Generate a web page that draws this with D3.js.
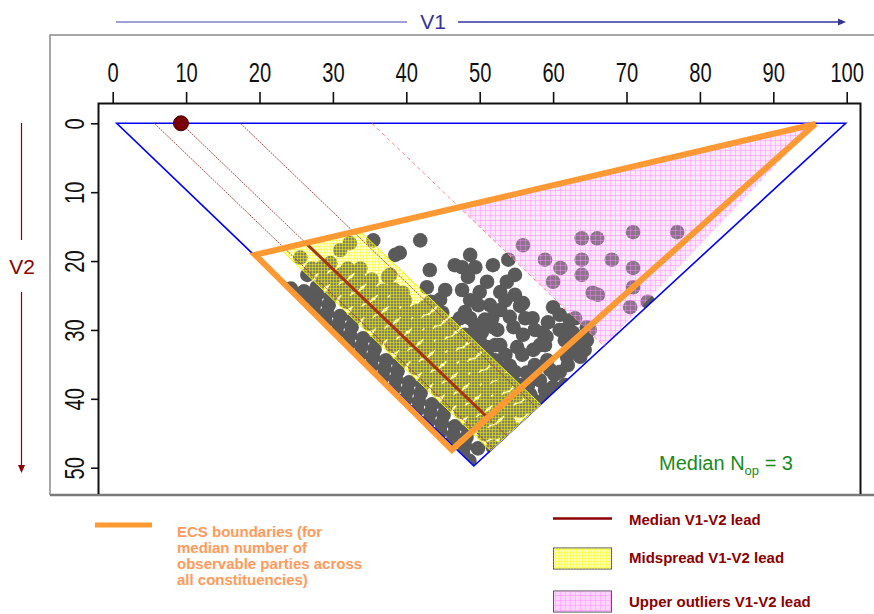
<!DOCTYPE html>
<html><head><meta charset="utf-8">
<script src="https://cdn.jsdelivr.net/npm/d3@7"></script>
<style>
body{margin:0;background:#fff;}
svg{display:block;font-family:"Liberation Sans",Arial,sans-serif;}
</style></head>
<body><svg id="c" width="874" height="614"></svg>
<script>
// ---------- data (V1 = winner share, V2 = runner-up share) ----------
const xTicks = [0,10,20,30,40,50,60,70,80,90,100];
const yTicks = [0,10,20,30,40,50];
const yTickLabels = ["0","10","20","30","40","50"];
const feasibleTriangle = [[0.55,0],[99.86,0],[49.2,49.75]];
const ecsBoundary = [[95.7,0.1],[19.4,19.1],[46.2,47.4]];
const medianLead = 9.3;
const quartileLines = [5.67,17.4];
const midspread = [5.0,18.4];
const upperOutlierLead = 35.3;
const medianNop = 3;
const constituencyPoints = [
 // lower-left strip
 [24.27,24],[25.84,25.6],[27.40,27.2],[28.97,28.8],[30.53,30.4],[32.10,32],[33.66,33.6],[35.23,35.2],
 [36.79,36.8],[38.36,38.4],[39.92,40],[41.48,41.6],[43.05,43.2],[44.61,44.8],[46.18,46.4],[47.74,48],
 [27.85,24.8],[29.42,26.4],[30.98,28],[32.55,29.6],[34.11,31.2],[35.68,32.8],[37.24,34.4],[38.81,36],
 [40.37,37.6],[41.94,39.2],[43.50,40.8],[45.07,42.4],[46.63,44],[48.20,45.6],[49.76,47.2],[48.6,49.0],
 [26.06,24.4],[27.63,26],[29.19,27.6],[30.76,29.2],[32.32,30.8],[33.89,32.4],[35.45,34],[37.02,35.6],
 [38.58,37.2],[40.15,38.8],[41.71,40.4],[43.28,42],[44.84,43.6],[46.41,45.2],[47.97,46.8],
 [26.52,22],[29.65,25.2],[32.78,28.4],[35.9,31.6],[39.03,34.8],[42.16,38],[45.29,41.2],[48.42,44.4],
 [26.2,25.0],[27.8,23.8],
 // midspread band
 [25.57,19.5],[27.14,21.1],[28.70,22.7],[30.27,24.3],[31.83,25.9],[33.40,27.5],[34.96,29.1],[36.52,30.7],
 [38.09,32.3],[39.65,33.9],[41.22,35.5],[42.78,37.1],[44.35,38.7],[45.91,40.3],[47.48,41.9],[49.04,43.5],[50.61,45.1],
 [28.54,20.9],[30.11,22.5],[31.67,24.1],[33.23,25.7],[34.80,27.3],[36.36,28.9],[37.93,30.5],[39.49,32.1],
 [41.06,33.7],[42.62,35.3],[44.19,36.9],[45.75,38.5],[47.32,40.1],[48.88,41.7],[50.45,43.3],[52.01,44.9],
 [29.65,20.3],[31.22,21.9],[32.78,23.5],[34.35,25.1],[35.91,26.7],[37.48,28.3],[39.04,29.9],[40.61,31.5],
 [42.17,33.1],[43.74,34.7],[45.30,36.3],[46.87,37.9],[48.43,39.5],[50.00,41.1],[51.56,42.7],[53.13,44.3],
 [32.04,21.1],[33.60,22.7],[35.17,24.3],[36.73,25.9],[38.30,27.5],[39.86,29.1],[41.42,30.7],[42.99,32.3],
 [44.55,33.9],[46.12,35.5],[47.68,37.1],[49.25,38.7],[50.81,40.3],[52.38,41.9],[53.94,43.5],
 [33.74,21.1],[35.30,22.7],[36.87,24.3],[38.43,25.9],[40.00,27.5],[41.56,29.1],[43.12,30.7],
 [44.69,32.3],[46.25,33.9],[47.82,35.5],[49.38,37.1],[50.95,38.7],[52.51,40.3],[54.08,41.9],
 [38.27,24.1],[39.83,25.7],[41.40,27.3],[42.96,28.9],[44.53,30.5],[46.09,32.1],
 [47.66,33.7],[49.22,35.3],[50.79,36.9],[52.35,38.5],[53.92,40.1],[55.48,41.7],
 [42.51,26.7],[44.08,28.3],[45.64,29.9],[47.21,31.5],
 [48.77,33.1],[50.34,34.7],[51.90,36.3],[53.47,37.9],[55.03,39.5],[56.60,41.1],
 [43.33,25.9],[44.90,27.5],[46.46,29.1],[48.02,30.7],
 [49.59,32.3],[51.15,33.9],[52.72,35.5],[54.28,37.1],[55.85,38.7],[57.41,40.3],
 [32.3,17.4],[31.0,18.4],[35.5,17.0],[37.8,22.0],
 // between midspread and outliers
 [41.9,17.0],[39.1,18.8],[47.6,20.9],[49.4,20.9],[48.4,22.3],[53.9,19.8],[51.0,23.0],[53.7,23.0],
 [50.0,24.5],[52.8,24.5],[51.4,26.4],[55.9,26.1],[60.0,26.7],[48.0,27.4],[49.4,29.3],[50.0,31.5],
 [54.1,28.1],[52.4,30.0],[58.6,30.4],[60.9,30.0],[62.7,30.4],[64.6,29.6],[64.6,31.5],[55.1,32.5],
 [57.3,32.9],[59.2,34.4],[61.9,33.9],[63.7,33.9],[56.4,36.2],[58.2,37.3],[60.0,38.3],[65.0,30.0],
 [38.5,19.1],[37.5,22.3],[42.8,23.8],[39.5,24.6],[51.8,29.6],[54.6,29.6],[51.0,32.5],
 [59.1,31.0],[61.3,30.0],[60.5,39.2],[58.2,40.6],[57.3,43.1],[55.1,44.5],[53.7,46.0],[51.8,47.0],
 [48.7,25.7],[47.3,28.3],[48.7,30.7],[50.7,28.5],[52.8,32.2],[52.1,34.4],[54.1,35.2],[55.5,38.0],
 [53.4,37.3],[56.9,39.4],[58.9,39.9],[60.9,36.1],[62.6,32.9],[63.7,31.5],[62.3,28.6],[56.2,28.3],
 [57.5,30.0],[58.9,32.2],[55.9,30.7],[52.8,27.1],[54.8,24.9],[51.8,20.6],[48.7,19.1],[46.6,20.6],
 [43.2,21.3],[44.6,25.6],[45.3,24.2],[54.8,22.0],[60.9,27.8],
 [47.6,24.2],[49.8,26.4],[51.7,28.3],[53.5,25.7],[55.5,26.5],[57.2,28.3],[59.3,28.9],[63.0,28.3],
 [64.3,32.9],[62.0,35.1],[59.6,35.8],[57.5,35.1],[55.8,33.6],[53.5,33.6],[54.8,36.1],[56.6,38.0],
 [58.9,38.7],[60.2,36.5],[61.6,38.0],[48.7,28.3],[50.3,30.3],[52.1,32.2],[58.2,32.2],[61.6,31.5],
 // upper outliers
 [55.9,17.7],[58.9,19.8],[61.0,21.0],[60.0,23.0],[63.9,16.7],[66.0,16.7],[63.9,19.8],[63.9,22.0],
 [65.4,24.6],[66.1,24.9],[68.0,19.8],[70.9,15.8],[70.9,21.0],[70.9,23.8],[70.5,26.7],[72.9,25.9],[76.9,15.8]
];
const legendItems = ["Median V1-V2 lead","Midspread V1-V2 lead","Upper outliers V1-V2 lead"];
const ecsLegendLines = ["ECS boundaries (for","median number of","observable parties across","all constituencies)"];

// ---------- scales ----------
const x = d3.scaleLinear().domain([0,100]).range([112.7,846.7]);
const y = d3.scaleLinear().domain([0,50]).range([123.3,467.7]);
const svg = d3.select("#c");
const defs = svg.append("defs");

function pattern(id, size, bg, line){
  const p = defs.append("pattern").attr("id",id).attr("width",size).attr("height",size)
    .attr("patternUnits","userSpaceOnUse");
  p.append("rect").attr("width",size).attr("height",size).attr("fill",bg);
  p.append("path").attr("d",`M0 0.5H${size}M0.5 0V${size}`).attr("stroke",line).attr("stroke-width",1);
}
pattern("yg",3,"rgba(255,255,110,0.26)","rgba(255,255,0,0.45)");
pattern("pg",5,"rgba(255,175,255,0.30)","rgba(255,130,255,0.42)");

defs.append("clipPath").attr("id","triClip").append("path")
  .attr("d","M"+feasibleTriangle.map(p=>[x(p[0]),y(p[1])].join(",")).join("L")+"Z");

// slope of a constant-lead line (parallel to the V1=V2 edge)
const s = (feasibleTriangle[2][0]-feasibleTriangle[0][0])/(feasibleTriangle[2][1]-feasibleTriangle[0][1]);
function leadPoint(L, seg){
  const [A,B]=seg, dx=B[0]-A[0], dy=B[1]-A[1];
  const u=(L + s*A[1] - A[0])/(dx - s*dy);
  return [A[0]+u*dx, A[1]+u*dy];
}
const triTop=[feasibleTriangle[0],feasibleTriangle[1]];
const triRight=[feasibleTriangle[1],feasibleTriangle[2]];
const ecsTop=[ecsBoundary[1],ecsBoundary[0]];
const ecsRight=[ecsBoundary[0],ecsBoundary[2]];
const line = d3.line().x(d=>x(d[0])).y(d=>y(d[1]));

// ---------- frames ----------
svg.append("path").attr("d","M50,495V35H874").attr("fill","none").attr("stroke","#8a8a8a").attr("stroke-width",1.5);
svg.append("line").attr("x1",50).attr("x2",874).attr("y1",495).attr("y2",495).attr("stroke","#7a7a7a").attr("stroke-width",2.5);
svg.append("path").attr("d","M98.5,494V103.5H860.5V494").attr("fill","none").attr("stroke","#111").attr("stroke-width",2);

// ---------- axes ----------
const gx = svg.append("g").attr("transform","translate(0,103)")
  .call(d3.axisTop(x).tickValues(xTicks).tickSize(11).tickPadding(10).tickFormat(d3.format("d")));
gx.select(".domain").remove();
gx.selectAll(".tick line").attr("stroke","#111").attr("stroke-width",1.6);
gx.selectAll(".tick text").attr("font-size",28).attr("fill","#111")
  .attr("transform","scale(0.72,1)");

const gy = svg.append("g").attr("transform","translate(98,0)")
  .call(d3.axisLeft(y).tickValues(yTicks).tickSize(7).tickFormat((d,i)=>yTickLabels[i]));
gy.select(".domain").remove();
gy.selectAll(".tick line").attr("stroke","#111").attr("stroke-width",1.6);
gy.selectAll(".tick text").attr("font-size",28).attr("fill","#111")
  .attr("x",0).attr("dy",null).attr("text-anchor","middle").attr("dominant-baseline","central")
  .attr("transform","translate(-24,0) rotate(-90) scale(0.72,1)");

// ---------- axis captions ----------
svg.append("line").attr("x1",116).attr("x2",407).attr("y1",22).attr("y2",22).attr("stroke","#8080c8").attr("stroke-width",1.5);
svg.append("line").attr("x1",458).attr("x2",840).attr("y1",22).attr("y2",22).attr("stroke","#333399").attr("stroke-width",1.5);
svg.append("path").attr("d","M846,22 L838,18.5 L838,25.5Z").attr("fill","#333399");
svg.append("text").attr("x",433).attr("y",29).attr("text-anchor","middle").attr("font-size",21).attr("fill","#333399").text("V1");

svg.append("line").attr("x1",21.5).attr("x2",21.5).attr("y1",123).attr("y2",240).attr("stroke","#8b0000").attr("stroke-width",1.2);
svg.append("line").attr("x1",21.5).attr("x2",21.5).attr("y1",292).attr("y2",466).attr("stroke","#8b0000").attr("stroke-width",1.2);
svg.append("path").attr("d","M21.5,473 L18,465 L25,465Z").attr("fill","#8b0000");
svg.append("text").attr("x",22).attr("y",274).attr("text-anchor","middle").attr("font-size",21).attr("fill","#8b0000").text("V2");

// ---------- plot ----------
const plot = svg.append("g");
plot.append("g").attr("clip-path","url(#triClip)").selectAll("circle").data(constituencyPoints).join("circle")
  .attr("cx",d=>x(d[0])).attr("cy",d=>y(d[1])).attr("r",7.3).attr("fill","#5a5a5a");

plot.append("path").datum(feasibleTriangle).attr("d",d=>line(d)+"Z")
  .attr("fill","none").attr("stroke","#0000ff").attr("stroke-width",1.6);

// upper outliers area
plot.append("path").datum([leadPoint(upperOutlierLead,ecsTop), ecsBoundary[0], leadPoint(upperOutlierLead,triRight)])
  .attr("d",d=>line(d)+"Z").attr("fill","url(#pg)");
plot.append("path").datum([leadPoint(upperOutlierLead,triTop), leadPoint(upperOutlierLead,triRight)])
  .attr("d",line).attr("stroke","#ff8c8c").attr("stroke-width",1).attr("stroke-dasharray","4,3").attr("fill","none");

// midspread band
plot.append("path").datum([leadPoint(midspread[0],ecsTop),leadPoint(midspread[1],ecsTop),
    leadPoint(midspread[1],triRight),leadPoint(midspread[0],triRight)])
  .attr("d",d=>line(d)+"Z").attr("fill","url(#yg)").attr("stroke","#f0f000").attr("stroke-width",1);

// thin lead lines
plot.selectAll(".lead").data(quartileLines.concat([medianLead])).join("path").attr("class","lead")
  .attr("d",L=>line([leadPoint(L,triTop),leadPoint(L,triRight)]))
  .attr("stroke","#9a2a2a").attr("stroke-width",1).attr("stroke-dasharray","2,1").attr("fill","none").attr("opacity",0.85);

// median thick line
plot.append("path").datum([leadPoint(medianLead,ecsTop),leadPoint(medianLead,ecsRight)])
  .attr("d",line).attr("stroke","#a8340a").attr("stroke-width",3).attr("fill","none");

// ECS boundaries
plot.append("path").datum(ecsBoundary).attr("d",d=>line(d)+"Z")
  .attr("fill","none").attr("stroke","#ff9933").attr("stroke-width",6).attr("stroke-linejoin","miter");

// median lead marker
plot.append("circle").attr("cx",x(medianLead)).attr("cy",y(0)).attr("r",7.5)
  .attr("fill","#7a0000").attr("stroke","#3a0000").attr("stroke-width",1);

// median Nop
const nt = svg.append("text").attr("x",659).attr("y",470).attr("font-size",20).attr("fill","#1a8a1a");
nt.append("tspan").text("Median N");
nt.append("tspan").attr("font-size",13).attr("dy",5).text("op");
nt.append("tspan").attr("dy",-5).text(" = " + medianNop);

// ---------- legend ----------
svg.append("line").attr("x1",95).attr("x2",152).attr("y1",525).attr("y2",525).attr("stroke","#ff9933").attr("stroke-width",5);
svg.append("g").selectAll("text").data(ecsLegendLines).join("text")
  .attr("x",177).attr("y",(d,i)=>537+i*16).attr("font-size",15).attr("font-weight","bold").attr("fill","#ff9a5c").text(d=>d);

const lg = svg.append("g");
lg.append("line").attr("x1",553).attr("x2",612).attr("y1",518.5).attr("y2",518.5).attr("stroke","#8b0000").attr("stroke-width",2.5);
lg.append("rect").attr("x",553.5).attr("y",548).attr("width",58).attr("height",21).attr("fill","#ffffd0").attr("stroke","#444");
lg.append("rect").attr("x",553.5).attr("y",548).attr("width",58).attr("height",21).attr("fill","url(#yg)");
lg.append("rect").attr("x",553.5).attr("y",591).attr("width",58).attr("height",21).attr("fill","#ffe4ff").attr("stroke","#444");
lg.append("rect").attr("x",553.5).attr("y",591).attr("width",58).attr("height",21).attr("fill","url(#pg)");
lg.selectAll("text").data(legendItems).join("text")
  .attr("x",629).attr("y",(d,i)=>[524.5,562.5,606.5][i]).attr("font-size",15).attr("font-weight","bold").attr("fill","#8b0000").text(d=>d);
</script></body></html>
